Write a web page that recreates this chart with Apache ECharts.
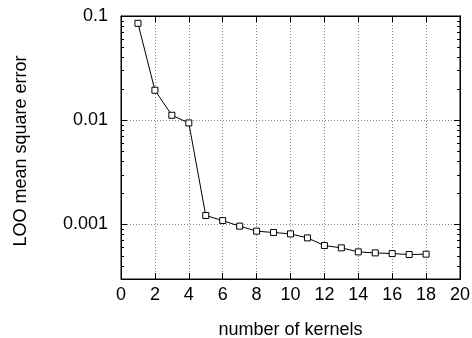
<!DOCTYPE html>
<html><head><meta charset="utf-8">
<script src="https://cdn.jsdelivr.net/npm/echarts@6/dist/echarts.min.js"></script>
<style>html,body{margin:0;padding:0;background:#fff}#c{width:472px;height:338px}</style>
</head><body><div id="c"></div>
<script>
const kernels = [1,2,3,4,5,6,7,8,9,10,11,12,13,14,15,16,17,18];
const looMSE = [0.0851,0.0194,0.01116,0.00942,0.00122,0.00109,0.000964,0.000863,0.000838,0.000813,0.000744,0.000628,0.000597,0.000546,0.000534,0.000526,0.000515,0.000519];
const yMajorTicks = [0.001, 0.01, 0.1];
const xTicks = [0,2,4,6,8,10,12,14,16,18,20];

const yMin = 0.0003, yMax = 0.1;
const minorTicks = [];
[0.0001, 0.001, 0.01].forEach(d => { for (let k = 2; k <= 9; k++) { const v = +(d*k).toPrecision(3); if (v > yMin && v < yMax) minorTicks.push(v); } });

const font = 'Liberation Sans, Arial, Helvetica, sans-serif';
const fs = 18;
const chart = echarts.init(document.getElementById('c'));
function yAx(pos, show, ticks, len) {
  return {
    type: 'log', logBase: 10, min: yMin, max: yMax, position: pos,
    axisLine: { show: true, lineStyle: { color: '#000', width: 1 } },
    axisTick: { show: true, inside: true, length: len, customValues: ticks, lineStyle: { color: '#000', width: 1 } },
    axisLabel: { show: show, customValues: yMajorTicks, color: '#000', fontFamily: font, fontSize: fs, margin: 13,
      formatter: v => String(+v.toPrecision(3)) },
    minorTick: { show: false },
    splitLine: { show: show, lineStyle: { color: '#888', type: [1, 2], width: 1 } }
  };
}
const yAxes = [
  Object.assign(yAx('left', true, yMajorTicks, 6), {
    name: 'LOO mean square error', nameLocation: 'middle', nameGap: 91, nameRotate: 90,
    nameTextStyle: { color: '#000', fontFamily: font, fontSize: fs, padding: [0,7,0,0] }
  }),
  yAx('left', false, minorTicks, 3),
  yAx('right', false, yMajorTicks, 6),
  yAx('right', false, minorTicks, 3)
];
function xAx(pos, show) {
  return {
    type: 'value', min: 0, max: 20, interval: 2, position: pos,
    axisLine: { show: true, lineStyle: { color: '#000', width: 1 } },
    axisTick: { show: true, inside: true, length: 6, lineStyle: { color: '#000' } },
    axisLabel: { show: show, customValues: xTicks, color: '#000', fontFamily: font, fontSize: fs, margin: 7 },
    splitLine: { show: show, lineStyle: { color: '#888', type: [1, 2], width: 1 } }
  };
}
const xAxes = [
  Object.assign(xAx('bottom', true), {
    name: 'number of kernels', nameLocation: 'middle', nameGap: 42,
    nameTextStyle: { color: '#000', fontFamily: font, fontSize: fs }
  }),
  xAx('top', false)
];
chart.setOption({
  animation: false,
  backgroundColor: '#fff',
  grid: { left: 121, right: 12, top: 16, bottom: 59, show: true, borderColor: '#000', borderWidth: 1, backgroundColor: 'transparent', outerBoundsMode: 'none', containLabel: false },
  xAxis: xAxes,
  yAxis: yAxes,
  series: [{
    type: 'line', xAxisIndex: 0, yAxisIndex: 0,
    data: kernels.map((k, i) => [k, looMSE[i]]),
    symbol: 'rect', symbolSize: 6,
    lineStyle: { color: '#000', width: 1 },
    itemStyle: { color: '#fff', borderColor: '#000', borderWidth: 1 }
  }]
});
</script></body></html>
